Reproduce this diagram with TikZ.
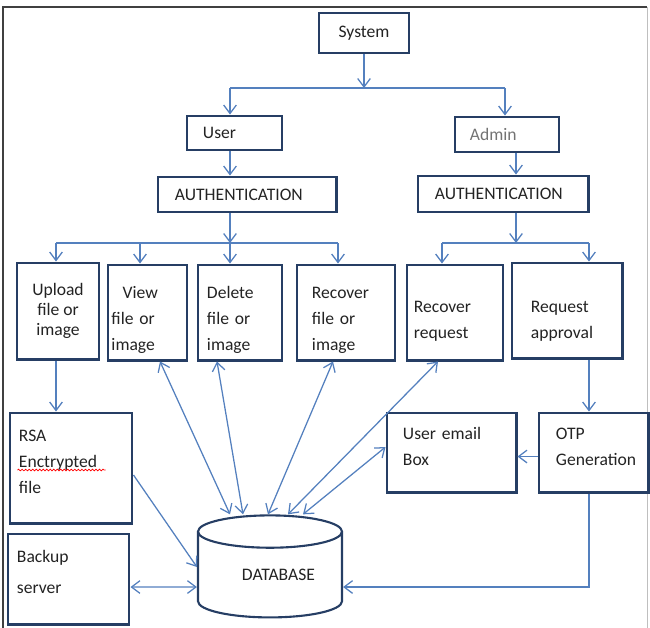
\documentclass[tikz,border=0pt]{standalone}
\usepackage{fontspec}
\setmainfont{Carlito}
\usepackage{tikz}
\usetikzlibrary{calc,arrows.meta,shapes.geometric,decorations.pathmorphing}
\definecolor{boxblue}{RGB}{38,62,100}
\definecolor{linkblue}{RGB}{84,128,190}
\definecolor{txt}{RGB}{35,35,35}
\newcommand{\padtop}[1]{\rule{0pt}{#1}}
\newcommand{\padbot}[1]{\rule[-#1]{0pt}{#1}}
\tikzstyle{box} = [draw=boxblue, line width=2.1pt, inner sep=0pt, align=left, text=txt, font=\fontsize{12.5}{18.5}\selectfont]
\tikzstyle{link} = [draw=linkblue, line width=0.9pt]
\tikzstyle{dbase} = [cylinder, shape border rotate=90, aspect=0.36, draw=boxblue, line width=1.5pt, inner sep=0pt, text=txt, font=\fontsize{12.5}{15}\selectfont]
\tikzstyle{spell} = [draw=red, line width=0.5pt, decorate, decoration={snake, amplitude=0.6pt, segment length=2.5pt}]

\begin{document}
\begin{tikzpicture}[x=0.025cm, y=-0.025cm, >={Straight Barb[length=6pt,width=9pt]}]
\useasboundingbox (0,0) rectangle (650,627);

% frame
\draw[black!75, line width=0.9pt] (3,640) -- (3,7) -- (647,7);
\draw[black!25, line width=0.6pt] (647,7) -- (647,640);

% boxes
\node (sys)    [box, align=center, minimum width=2.25cm, minimum height=1cm] at (364,33) {System};
\node (user)   [box, minimum width=2.375cm, minimum height=0.85cm, text width=1.575cm] at (234.5,133) {User};
\node (admin)  [box, minimum width=2.6cm, minimum height=0.875cm, text width=1.85cm, text=black!55] at (507,134.5) {Admin};
\node (authu)  [box, minimum width=4.45cm, minimum height=0.875cm, text width=3.6cm] at (247,194.5) {AUTHENTICATION};
\node (autha)  [box, minimum width=4.25cm, minimum height=0.9cm, text width=3.4cm] at (503,194) {AUTHENTICATION};

\node (upload) [box, align=center, minimum width=2.05cm, minimum height=2.4cm, font=\fontsize{12.5}{14.5}\selectfont] at (58,311) {Upload\\file or\\image};
\node (view)   [box, minimum width=1.975cm, minimum height=2.375cm, text width=1.8cm] at (147.5,312.5) {\padtop{19pt}\hspace*{8pt}View\\file or\\image};
\node (delete) [box, minimum width=2.1cm, minimum height=2.375cm, text width=1.65cm] at (240,312.5) {\padtop{19pt}Delete\\file or\\image};
\node (recf)   [box, minimum width=2.45cm, minimum height=2.375cm, text width=1.7cm] at (346,312.5) {\padtop{19pt}Recover\\file or\\image};
\node (recr)   [box, minimum width=2.4cm, minimum height=2.375cm, text width=2.05cm] at (455,312.5) {\padtop{21pt}Recover\\request};
\node (reqa)   [box, minimum width=2.75cm, minimum height=2.375cm, text width=1.8cm] at (567,310.5) {\padtop{23pt}Request\\approval};

\node (rsa)    [box, minimum width=3.05cm, minimum height=2.75cm, text width=2.6cm] at (71,468) {RSA\\Enctrypted\\file\padbot{9.5pt}};
\node (mail)   [box, minimum width=3.225cm, minimum height=1.975cm, text width=2.425cm] at (451.5,452.5) {User email\\Box\padbot{8pt}};
\node (otp)    [box, minimum width=2.725cm, minimum height=1.975cm, text width=1.875cm] at (593.5,452.5) {OTP\\Generation\padbot{8pt}};
\node (backup) [box, minimum width=3.025cm, minimum height=2.25cm, text width=2.575cm, font=\fontsize{12.5}{22}\selectfont] at (68.5,579) {Backup\\server\padbot{10pt}};
\node (db)     [dbase, minimum width=3.6cm, minimum height=2.55cm] at (270,575) {\hspace*{12pt}DATABASE};

% spell-check mark
\draw[spell] ($(rsa.west)+(9,2)$) -- ++(88,0);

% branch points
\coordinate (top) at (230,88);
\coordinate (topr) at (505,88);
\coordinate (b1) at (56,243);
\coordinate (b2) at (140,243);
\coordinate (b3) at (230,243);
\coordinate (b4) at (338,243);
\coordinate (b5) at (442,243);
\coordinate (b6) at (589,243);
\coordinate (am) at (516,243);

% edges
\draw[link,->] (sys.south) -- (sys.south |- top);
\draw[link] (top) -- (topr);
\draw[link,->] (top) -- (top |- user.north);
\draw[link,->] (topr) -- (topr |- admin.north);
\draw[link,->] (user.south -| b3) -- (b3 |- authu.north);
\draw[link,->] (admin.south -| am) -- (am |- autha.north);
\draw[link,->] (authu.south -| b3) -- (b3);
\draw[link,->] (autha.south -| am) -- (am);
\draw[link] (b1) -- (b4);
\draw[link] (b5) -- (b6);
\foreach \b/\n in {b1/upload, b2/view, b3/delete, b4/recf, b5/recr, b6/reqa}
  \draw[link,->] (\b) -- (\b |- \n.north);
\draw[link,->] (upload.south -| b1) -- (b1 |- rsa.north);
\draw[link,->] (reqa.south -| b6) -- (b6 |- otp.north);
\draw[link,->] ($(otp.west)+(0,4)$) -- ($(mail.east)+(0,4)$);

% database links
\draw[link,<->] ($(view.south)+(12.5,0)$) -- ($(db.north)+(-40,0)$);
\draw[link,<->] ($(delete.south)+(-23,0)$) -- ($(db.north)+(-27,0)$);
\draw[link,<->] ($(recf.south)+(-13,0)$) -- ($(db.north)+(-2,0)$);
\draw[link,<->] ($(recr.south)+(-17,0)$) -- ($(db.north)+(18,0)$);
\draw[link,<->] ($(mail.west)+(0,-5.5)$) -- ($(db.north)+(33,0)$);
\draw[link,->] ($(rsa.east)+(0,7)$) -- ($(db.west)+(0,-8)$);
\draw[link,<->] ($(backup.east)+(0,8)$) -- ($(db.west)+(0,12)$);
\draw[link,->] (otp.south -| b6) |- ($(db.east)+(0,12)$);

\end{tikzpicture}
\end{document}
